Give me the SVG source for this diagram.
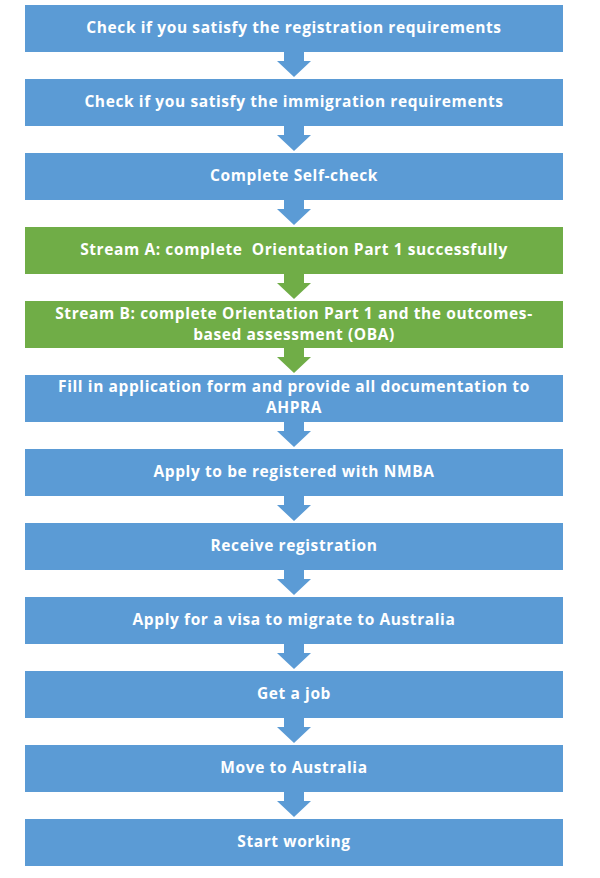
<svg xmlns="http://www.w3.org/2000/svg" width="600" height="878" viewBox="0 0 600 878">
<style>
.b{fill:#5b9bd5}
.g{fill:#70ad47}
text{font-family:"Open Sans","Liberation Sans",sans-serif;font-weight:bold;font-size:15.5px;letter-spacing:0.6px;fill:#ffffff;text-anchor:middle;white-space:pre}
</style>
<defs>
<path id="arr" d="M284,0 H304 V9 H311 L294,25 L277,9 H284 Z"/>
</defs>
<g id="connectors">
<use href="#arr" class="b" y="52"/>
<use href="#arr" class="b" y="126"/>
<use href="#arr" class="b" y="200"/>
<use href="#arr" class="g" y="274"/>
<use href="#arr" class="g" y="348"/>
<use href="#arr" class="b" y="422"/>
<use href="#arr" class="b" y="496"/>
<use href="#arr" class="b" y="570"/>
<use href="#arr" class="b" y="644"/>
<use href="#arr" class="b" y="718"/>
<use href="#arr" class="b" y="792"/>
</g>
<g id="n1"><rect class="b" x="25" y="5" width="538" height="47"/><text x="294" y="33">Check if you satisfy the registration requirements</text></g>
<g id="n2"><rect class="b" x="25" y="79" width="538" height="47"/><text x="294" y="107">Check if you satisfy the immigration requirements</text></g>
<g id="n3"><rect class="b" x="25" y="153" width="538" height="47"/><text x="294" y="181">Complete Self-check</text></g>
<g id="n4"><rect class="g" x="25" y="227" width="538" height="47"/><text x="294" y="255" xml:space="preserve">Stream A: complete  Orientation Part 1 successfully</text></g>
<g id="n5"><rect class="g" x="25" y="301" width="538" height="47"/><text x="294" y="319">Stream B: complete Orientation Part 1 and the outcomes-</text><text x="294" y="340">based assessment (OBA)</text></g>
<g id="n6"><rect class="b" x="25" y="375" width="538" height="47"/><text x="294" y="392">Fill in application form and provide all documentation to</text><text x="294" y="413">AHPRA</text></g>
<g id="n7"><rect class="b" x="25" y="449" width="538" height="47"/><text x="294" y="477">Apply to be registered with NMBA</text></g>
<g id="n8"><rect class="b" x="25" y="523" width="538" height="47"/><text x="294" y="551">Receive registration</text></g>
<g id="n9"><rect class="b" x="25" y="597" width="538" height="47"/><text x="294" y="625">Apply for a visa to migrate to Australia</text></g>
<g id="n10"><rect class="b" x="25" y="671" width="538" height="47"/><text x="294" y="699">Get a job</text></g>
<g id="n11"><rect class="b" x="25" y="745" width="538" height="47"/><text x="294" y="773">Move to Australia</text></g>
<g id="n12"><rect class="b" x="25" y="819" width="538" height="47"/><text x="294" y="847">Start working</text></g>
</svg>
